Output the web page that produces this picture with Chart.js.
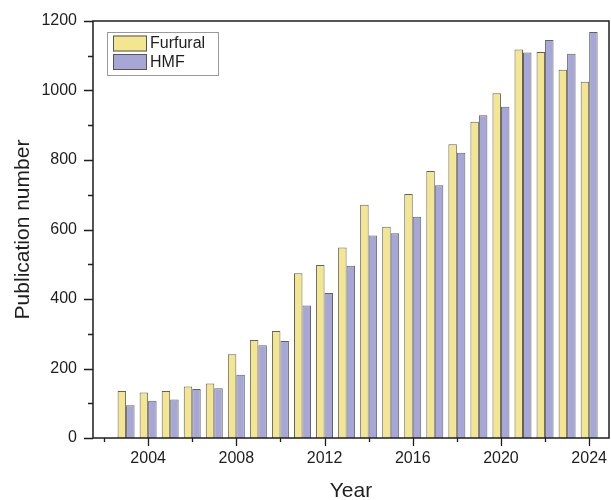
<!DOCTYPE html>
<html>
<head>
<meta charset="utf-8">
<script src="https://cdn.jsdelivr.net/npm/chart.js@4/dist/chart.umd.min.js"></script>
<style>
  html, body { margin: 0; padding: 0; background: #fff; }
  #wrap { width: 611px; height: 500px; }
</style>
</head>
<body>
<div id="wrap"><canvas id="c" width="611" height="500"></canvas></div>
<script>
// Annual publication counts
const years    = [2003, 2004, 2005, 2006, 2007, 2008, 2009, 2010, 2011, 2012, 2013,
                  2014, 2015, 2016, 2017, 2018, 2019, 2020, 2021, 2022, 2023, 2024];
const furfural = [135, 131, 135, 148, 157, 241, 282, 308, 474, 498, 548,
                  671, 608, 702, 768, 845, 910, 992, 1118, 1111, 1060, 1025];
const hmf      = [94, 107, 111, 141, 143, 182, 267, 279, 381, 417, 496,
                  583, 589, 637, 727, 821, 929, 953, 1109, 1145, 1106, 1168];

// Axis ticks: every value gets a tick mark, labelled ones are major
const xTicks = [2002, 2004, 2006, 2008, 2010, 2012, 2014, 2016, 2018, 2020, 2022, 2024];
const xLabelled = [2004, 2008, 2012, 2016, 2020, 2024];
const yTicks = [0, 100, 200, 300, 400, 500, 600, 700, 800, 900, 1000, 1100, 1200];
const yLabelled = [0, 200, 400, 600, 800, 1000, 1200];

const FONT = "'Liberation Sans', Arial, sans-serif";
const INK = '#1e1e1e';

// Draws the frame, outward tick marks and the inset legend
const framePlugin = {
  id: 'frame',
  afterDraw(chart) {
    const { ctx, chartArea: a, scales } = chart;
    ctx.save();
    ctx.strokeStyle = INK;
    ctx.lineWidth = 1.5;
    ctx.strokeRect(a.left, a.top, a.right - a.left, a.bottom - a.top);

    ctx.lineWidth = 1.3;
    ctx.beginPath();
    scales.x.ticks.forEach(t => {
      const px = Math.round(scales.x.getPixelForValue(t.value)) + 0.5;
      const len = xLabelled.includes(t.value) ? 8 : 4;
      ctx.moveTo(px, a.bottom);
      ctx.lineTo(px, a.bottom + len);
    });
    scales.y.ticks.forEach(t => {
      const py = Math.round(scales.y.getPixelForValue(t.value)) + 0.5;
      const len = yLabelled.includes(t.value) ? 9 : 5;
      ctx.moveTo(a.left, py);
      ctx.lineTo(a.left - len, py);
    });
    ctx.stroke();

    // Legend box
    const bx = 107.5, by = 32.5, bw = 111, bh = 43;
    ctx.strokeStyle = '#9a9a9a';
    ctx.lineWidth = 1;
    ctx.strokeRect(bx, by, bw, bh);
    ctx.font = '16px ' + FONT;
    ctx.textBaseline = 'middle';
    ctx.textAlign = 'left';
    chart.data.datasets.forEach((ds, i) => {
      const sy = 35.5 + i * 18.5;
      ctx.fillStyle = ds.backgroundColor;
      ctx.fillRect(113, sy, 34, 16);
      ctx.strokeStyle = '#555';
      ctx.strokeRect(113.5, sy + 0.5, 33, 15);
      ctx.fillStyle = INK;
      ctx.fillText(ds.label, 150, sy + 8.5);
    });
    ctx.restore();
  }
};

new Chart(document.getElementById('c'), {
  type: 'bar',
  data: {
    datasets: [
      {
        label: 'Furfural',
        data: years.map((y, i) => ({ x: y, y: furfural[i] })),
        backgroundColor: '#f4e690',
        borderColor: 'rgba(70,70,70,0.85)',
        borderWidth: 1
      },
      {
        label: 'HMF',
        data: years.map((y, i) => ({ x: y, y: hmf[i] })),
        backgroundColor: '#a7a7d7',
        borderColor: 'rgba(70,70,70,0.85)',
        borderWidth: 1
      }
    ]
  },
  options: {
    responsive: false,
    animation: false,
    devicePixelRatio: 1,
    categoryPercentage: 0.77,
    barPercentage: 1.0,
    layout: { padding: { top: 21, right: 2, left: 0, bottom: 0 } },
    plugins: { legend: { display: false }, tooltip: { enabled: false } },
    scales: {
      x: {
        type: 'linear',
        offset: false,
        min: 2001.5,
        max: 2024.9,
        grid: { display: false, drawTicks: true, tickLength: 8, offset: false },
        border: { display: false },
        afterBuildTicks: s => { s.ticks = xTicks.map(v => ({ value: v })); },
        afterFit: s => { s.height = 62; },
        ticks: {
          autoSkip: false,
          maxRotation: 0,
          padding: 3,
          color: INK,
          font: { family: FONT, size: 16 },
          callback: v => (xLabelled.includes(v) ? String(v) : '')
        },
        title: {
          display: true,
          text: 'Year',
          color: INK,
          font: { family: FONT, size: 21, lineHeight: 0.85 },
          padding: 0
        }
      },
      y: {
        min: 0,
        max: 1200,
        grid: { display: false, drawTicks: true, tickLength: 9 },
        border: { display: false },
        afterBuildTicks: s => { s.ticks = yTicks.map(v => ({ value: v })); },
        afterFit: s => { s.width = 93; },
        ticks: {
          autoSkip: false,
          padding: 7,
          color: INK,
          font: { family: FONT, size: 16 },
          callback: v => (yLabelled.includes(v) ? String(v) : '')
        },
        title: {
          display: true,
          text: 'Publication number',
          color: INK,
          font: { family: FONT, size: 21, lineHeight: 1.2 },
          padding: { top: 11, bottom: 0 }
        }
      }
    }
  },
  plugins: [framePlugin]
});
</script>
</body>
</html>
